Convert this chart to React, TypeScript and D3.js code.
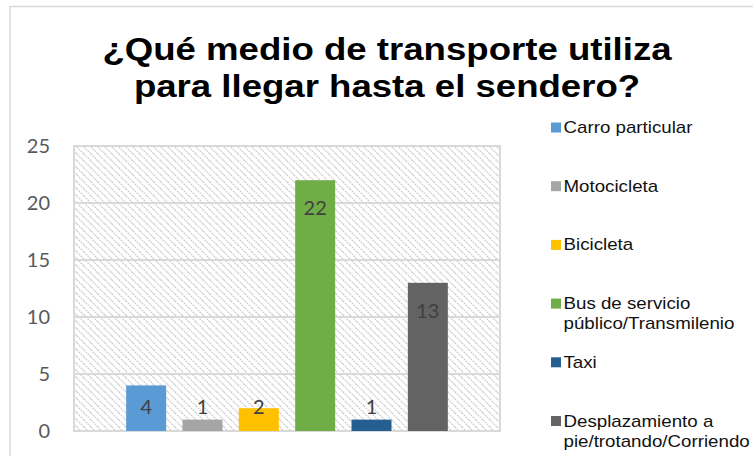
import React from 'react';
import * as d3 from 'd3';

const titleLines = ["¿Qué medio de transporte utiliza", "para llegar hasta el sendero?"];
const series = [
  "Carro particular",
  "Motocicleta",
  "Bicicleta",
  "Bus de servicio público/Transmilenio",
  "Taxi",
  "Desplazamiento a pie/trotando/Corriendo",
];
const values = [4, 1, 2, 22, 1, 13];
const colors = ["#5b9bd5", "#a5a5a5", "#ffc000", "#70ad47", "#255e91", "#636363"];
const yTicks = [0, 5, 10, 15, 20, 25];

const W = 753, H = 456;
const plot = { left: 74, right: 500, top: 146, bottom: 431 };
const SX = 1.2; // horizontal stretch of the reference text

function wrap(s: string, max: number): string[] {
  const words = s.split(' ');
  const lines: string[] = [];
  let cur = '';
  for (const w of words) {
    if (!cur) cur = w;
    else if ((cur + ' ' + w).length > max) { lines.push(cur); cur = w; }
    else cur += ' ' + w;
  }
  if (cur) lines.push(cur);
  return lines;
}

export default function App() {
  const y = d3.scaleLinear().domain([0, 25]).range([plot.bottom, plot.top]);
  const cx = (plot.left + plot.right) / 2;
  const x = d3.scaleBand<string>().domain(series)
    .range([cx - 169, cx + 169]).paddingInner(0.29).paddingOuter(0.145);

  const legendX = 551;
  const legendY0 = 133;
  const legendStep = 58.7;

  return (
    <svg width={W} height={H} style={{ position: 'absolute', left: 0, top: 0, background: '#fff' }}>
      <defs>
        <pattern id="hatch" patternUnits="userSpaceOnUse" width={7} height={7}>
          <rect width={7} height={7} fill="#ffffff" />
          <path d="M0,0 L7,7 M-1,6 L1,8 M6,-1 L8,1" stroke="#cbcbcb" strokeWidth={1.3} strokeDasharray="1.6 1" />
        </pattern>
      </defs>
      <rect x={10} y={6.5} width={800} height={500} fill="#fff" stroke="#d9d9d9" strokeWidth={1.5} />

      {titleLines.map((t, i) => (
        <text key={i} transform={`translate(387,${60 + i * 36.5}) scale(${SX},1)`} textAnchor="middle"
          fontFamily="'Liberation Sans', Arial, sans-serif" fontWeight="bold" fontSize={30.5} fill="#000">{t}</text>
      ))}

      <rect x={plot.left} y={plot.top} width={plot.right - plot.left} height={plot.bottom - plot.top}
        fill="url(#hatch)" stroke="#d9d9d9" strokeWidth={2} />
      {yTicks.map(t => (
        <line key={t} x1={plot.left} x2={plot.right} y1={y(t)} y2={y(t)} stroke="#d9d9d9" strokeWidth={2} />
      ))}
      {yTicks.map(t => (
        <text key={'l' + t} transform={`translate(50,${y(t) + 6.8}) scale(1.08,1)`} textAnchor="end"
          fontFamily="Lato, 'Open Sans', sans-serif" fontSize={18.5} fill="#595959">{t}</text>
      ))}

      {series.map((s, i) => (
        <rect key={s} x={x(s)} y={y(values[i])} width={x.bandwidth()} height={y(0) - y(values[i])} fill={colors[i]} />
      ))}
      {series.map((s, i) => {
        const ly = Math.min(y(values[i]) + 28, y(0) - 24);
        return (
          <text key={'d' + s} transform={`translate(${(x(s) as number) + x.bandwidth() / 2},${ly + 6.8}) scale(1.08,1)`}
            textAnchor="middle" fontFamily="Lato, 'Open Sans', sans-serif" fontSize={18.5} fill="#404040">{values[i]}</text>
        );
      })}

      {series.map((s, i) => {
        const by = legendY0 + i * legendStep;
        const lines = wrap(s, 22);
        return (
          <g key={'g' + s}>
            <rect x={legendX} y={by - 10.5} width={10} height={10} fill={colors[i]} />
            {lines.map((ln, j) => (
              <text key={j} transform={`translate(563.5,${by + j * 20}) scale(1.17,1)`}
                fontFamily="'Liberation Sans', Arial, sans-serif" fontSize={16} fill="#111">{ln}</text>
            ))}
          </g>
        );
      })}
    </svg>
  );
}
